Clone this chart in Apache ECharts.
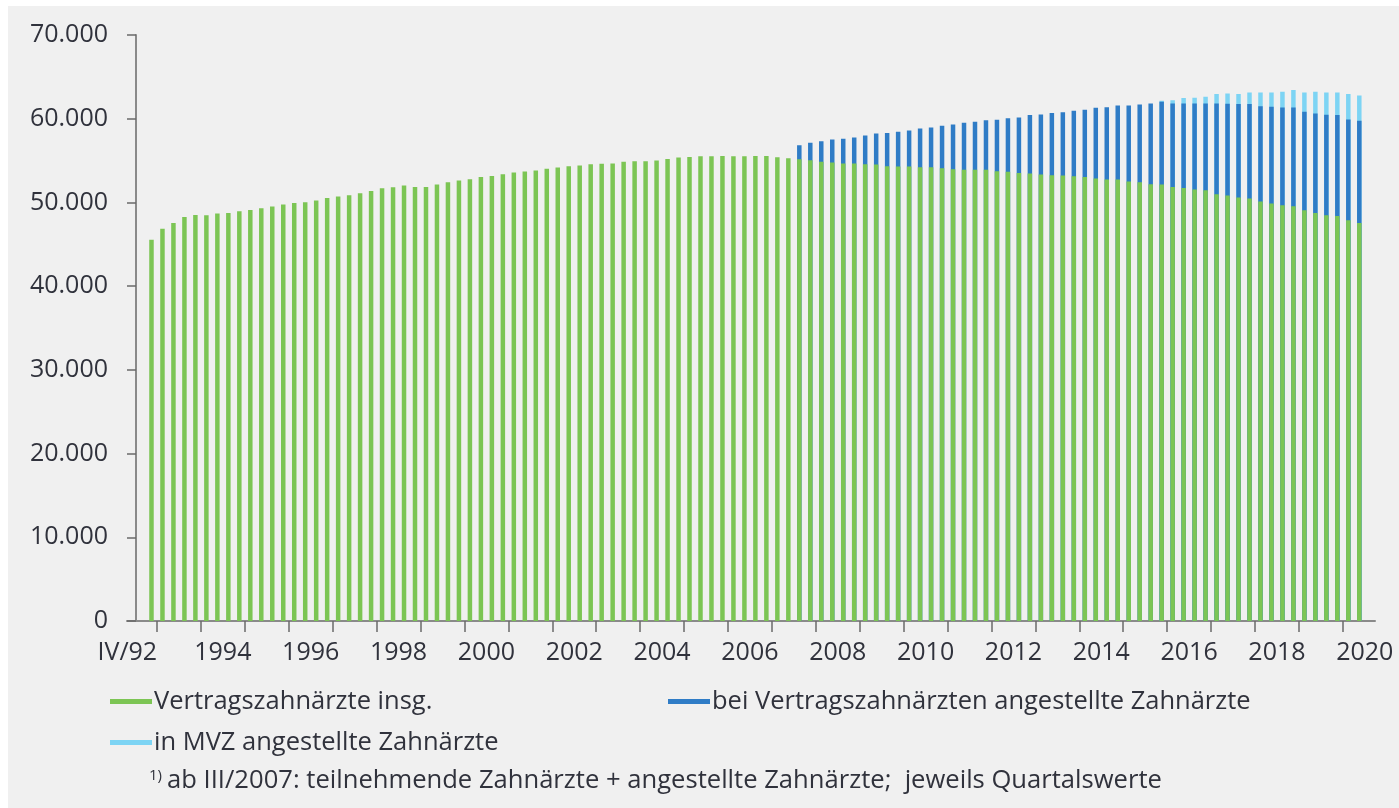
<!DOCTYPE html>
<html>
<head>
<meta charset="utf-8">
<script src="https://cdn.jsdelivr.net/npm/echarts@6/dist/echarts.min.js"></script>
<style>
  html, body { margin: 0; padding: 0; background: #fff; }
  #chart { position: absolute; left: 8px; top: 6px; width: 1391px; height: 802px; background: #f0f0f0; }
</style>
</head>
<body>
<div id="chart"></div>
<script>
// Quartale IV/1992 .. II/2020 (x-Position = Index in diesem Array)
const romans = ['I', 'II', 'III', 'IV'];
const quarters = ['IV/1992'];
for (let y = 1993; y <= 2020; y++) {
  for (let q = 0; q < 4; q++) {
    if (y < 2020 || q < 2) quarters.push(romans[q] + '/' + y);
  }
}

// Vertragszahnärzte insg. (Balkenhöhe grün), IV/1992 .. II/2020
const vertragszahnaerzte = [
  45550, 46870, 47540, 48260, 48500, 48460, 48670, 48740, 48940, 49100,
  49300, 49500, 49740, 49930, 50020, 50220, 50530, 50700, 50860, 51090,
  51370, 51690, 51810, 52010, 51850, 51850, 52130, 52410, 52610, 52770,
  53050, 53170, 53370, 53570, 53690, 53810, 54010, 54170, 54330, 54400,
  54570, 54610, 54650, 54850, 54930, 54930, 55010, 55200, 55370, 55440,
  55520, 55520, 55560, 55520, 55520, 55560, 55560, 55400, 55270, 55160,
  55040, 54850, 54770, 54650, 54650, 54570, 54530, 54330, 54290, 54290,
  54210, 54210, 54090, 53970, 53890, 53890, 53890, 53730, 53650, 53530,
  53450, 53330, 53250, 53210, 53130, 53050, 52850, 52730, 52730, 52490,
  52410, 52170, 52130, 51850, 51730, 51540, 51450, 50980, 50820, 50580,
  50460, 50100, 49860, 49660, 49540, 49060, 48740, 48460, 48380, 47860,
  47540
];

// Oberkante inkl. bei Vertragszahnärzten angestellte Zahnärzte, ab III/2007
const startAngestellte = 'III/2007';
const mitAngestellten = [
  56840, 57120, 57320, 57520, 57600, 57760, 58000, 58240, 58280, 58430,
  58600, 58840, 58960, 59150, 59320, 59510, 59630, 59830, 59870, 60070,
  60150, 60430, 60510, 60670, 60770, 60950, 61060, 61320, 61380, 61570,
  61570, 61690, 61830, 62020, 61830, 61830, 61830, 61830, 61830, 61800,
  61750, 61750, 61500, 61420, 61340, 61340, 60820, 60630, 60470, 60430,
  59910, 59750
];

// Oberkante inkl. in MVZ angestellte Zahnärzte, ab IV/2015
const startMVZ = 'IV/2015';
const mitMVZ = [
  62140, 62220, 62480, 62500, 62620, 62940, 63020, 62940, 63140, 63140,
  63140, 63220, 63420, 63140, 63220, 63140, 63140, 62940, 62780
];

// Achsenbeschriftung
const yearLabels = ['IV/92', '1994', '1996', '1998', '2000', '2002', '2004', '2006',
  '2008', '2010', '2012', '2014', '2016', '2018', '2020'];
const tickYears = [];
for (let y = 1993; y <= 2020; y++) tickYears.push(y);

const seriesNames = [
  'Vertragszahnärzte insg.',
  'bei Vertragszahnärzten angestellte Zahnärzte',
  'in MVZ angestellte Zahnärzte'
];
const colors = ['#7cc554', '#2f7cc6', '#7dd4f4'];

const font = 'Open Sans';
const textColor = '#30323c';
const xMin = -2.23, xMax = 111.43;

function toPoints(values, start) {
  const offset = quarters.indexOf(start);
  return values.map((v, i) => [offset + i, v]);
}

// Jahresgrenzen (Striche) und Jahresmitten (Beschriftung)
const tickPos = tickYears.map(y => quarters.indexOf('I/' + y) - 0.5);
const labelPos = yearLabels.map(l => l.indexOf('/') > 0 ? xMin + 0.03 : quarters.indexOf('II/' + l) + 0.5);

const chart = echarts.init(document.getElementById('chart'));
chart.setOption({
  backgroundColor: '#f0f0f0',
  animation: false,
  title: {
    left: 141,
    top: 762,
    padding: 0,
    text: '{s|1)} {t|ab III/2007: teilnehmende Zahnärzte + angestellte Zahnärzte;  jeweils Quartalswerte}',
    textStyle: {
      rich: {
        s: { fontFamily: font, fontSize: 15, fontWeight: 'normal', color: textColor, padding: [0, 0, 11, 0] },
        t: { fontFamily: font, fontSize: 25.6, fontWeight: 'normal', color: textColor }
      }
    }
  },
  legend: {
    left: 102,
    top: 680,
    padding: 0,
    width: 1250,
    icon: 'rect',
    itemWidth: 42,
    itemHeight: 5,
    itemGap: 10,
    data: seriesNames,
    textStyle: {
      fontFamily: font,
      fontSize: 25.5,
      color: textColor,
      width: 504,
      lineHeight: 31,
      padding: [0, 0, 0, -3]
    }
  },
  grid: { left: 119, right: 24, top: 29, bottom: 187 },
  xAxis: {
    type: 'value',
    min: xMin,
    max: xMax,
    splitLine: { show: false },
    axisLine: { onZero: false, lineStyle: { color: '#8a8a8a', width: 2 } },
    axisTick: { show: true, length: 11, customValues: tickPos, lineStyle: { color: '#6a6a6a', width: 1.5 } },
    axisLabel: {
      customValues: labelPos,
      margin: 19,
      fontFamily: font,
      fontSize: 25,
      color: textColor,
      formatter: v => yearLabels[labelPos.indexOf(v)] || ''
    }
  },
  yAxis: {
    type: 'value',
    min: 0,
    max: 70000,
    interval: 10000,
    offset: -9,
    splitLine: { show: false },
    axisLine: { show: true, onZero: false, lineStyle: { color: '#8a8a8a', width: 2 } },
    axisTick: { show: true, length: 9, lineStyle: { color: '#6a6a6a', width: 1.5 } },
    axisLabel: {
      margin: 28,
      fontFamily: font,
      fontSize: 25,
      color: textColor,
      formatter: v => v === 0 ? '0' : (v / 1000) + '.000'
    }
  },
  series: [
    {
      name: seriesNames[0], type: 'bar', z: 4, barWidth: 4.5, barGap: '-100%',
      itemStyle: { color: colors[0] },
      data: toPoints(vertragszahnaerzte, 'IV/1992')
    },
    {
      name: seriesNames[1], type: 'bar', z: 3, barWidth: 4.5, barGap: '-100%',
      itemStyle: { color: colors[1] },
      data: toPoints(mitAngestellten, startAngestellte)
    },
    {
      name: seriesNames[2], type: 'bar', z: 2, barWidth: 4.5, barGap: '-100%',
      itemStyle: { color: colors[2] },
      data: toPoints(mitMVZ, startMVZ)
    }
  ]
});
</script>
</body>
</html>
